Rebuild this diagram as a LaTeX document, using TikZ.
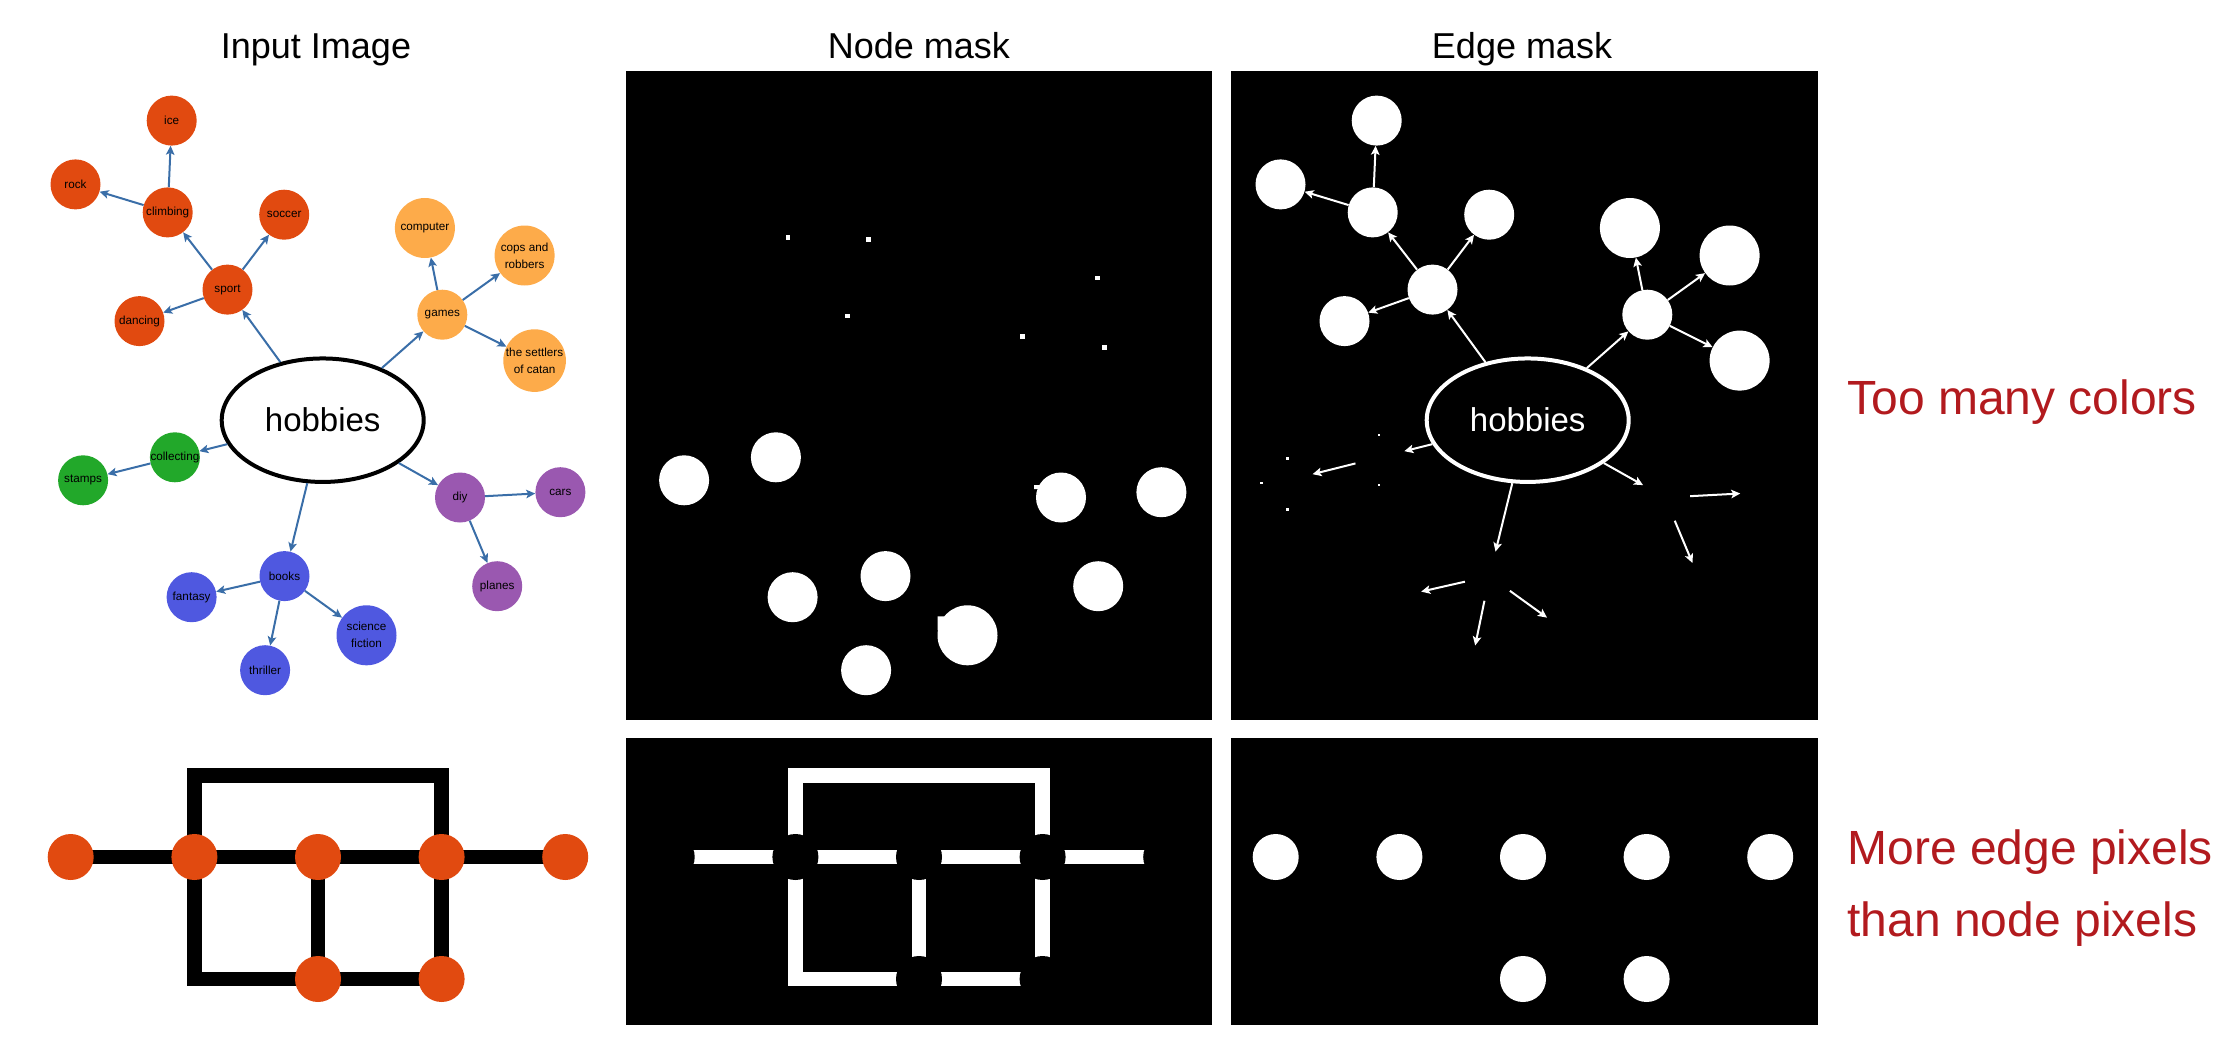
\documentclass[tikz,border=0pt]{standalone}
\usepackage{fontspec}
\setmainfont{Liberation Sans}
\usetikzlibrary{arrows.meta,shapes.geometric}

\definecolor{sportred}{RGB}{225,74,16}
\definecolor{gameorange}{RGB}{253,171,74}
\definecolor{collectgreen}{RGB}{34,168,42}
\definecolor{diypurple}{RGB}{154,88,176}
\definecolor{bookblue}{RGB}{79,88,224}
\definecolor{arrowblue}{RGB}{58,110,168}
\definecolor{notered}{RGB}{178,26,30}

% labels, emptied inside the mask panels
\newcommand{\lbl}[1]{#1}
\newcommand{\hlbl}[1]{#1}

% hobby mind map: nodes
\newcommand{\hobbynodes}{%
  \node[hob] (hobbies) at (322.7,420.2) {\hlbl{hobbies}};
  % sport
  \node[leaf, redgrp] (sport)    at (227.5,289.6) {\lbl{sport}};
  \node[leaf, redgrp] (climbing) at (167.7,212.4) {\lbl{climbing}};
  \node[leaf, redgrp] (ice)      at (171.7,120.6) {\lbl{ice}};
  \node[leaf, redgrp] (rock)     at (75.5,184.4)  {\lbl{rock}};
  \node[leaf, redgrp] (soccer)   at (284.2,214.7) {\lbl{soccer}};
  \node[leaf, redgrp] (dancing)  at (139.5,321.1) {\lbl{dancing}};
  % games
  \node[leaf, orangegrp]    (games)    at (442.3,314.7) {\lbl{games}};
  \node[bigleaf, orangegrp] (computer) at (424.9,228)   {\lbl{computer}};
  \node[bigleaf, orangegrp] (cops)     at (524.6,255.5) {\lbl{cops and\\robbers}};
  \node[bigleaf, orangegrp] (catan)    at (534.6,360.6) {\lbl{the settlers\\of catan}};
  % collecting
  \node[leaf, greengrp] (collecting) at (174.9,457.3) {\lbl{collecting}};
  \node[leaf, greengrp] (stamps)     at (83.1,480.3)  {\lbl{stamps}};
  % diy
  \node[leaf, purplegrp] (diy)    at (460,497.5)   {\lbl{diy}};
  \node[leaf, purplegrp] (cars)   at (560.4,492.2) {\lbl{cars}};
  \node[leaf, purplegrp] (planes) at (497.2,586.2) {\lbl{planes}};
  % books
  \node[leaf, bluegrp]    (books)    at (284.5,576.1) {\lbl{books}};
  \node[leaf, bluegrp]    (fantasy)  at (191.6,597.2) {\lbl{fantasy}};
  \node[bigleaf, bluegrp] (scifi)    at (366.5,635.3) {\lbl{science\\fiction}};
  \node[leaf, bluegrp]    (thriller) at (265.1,670.2) {\lbl{thriller}};
}

% hobby mind map: arrows
\newcommand{\hobbylinks}{%
  \draw[link] (hobbies) -- (sport);
  \draw[link] (sport) -- (climbing);
  \draw[link] (sport) -- (soccer);
  \draw[link] (sport) -- (dancing);
  \draw[link] (climbing) -- (ice);
  \draw[link] (climbing) -- (rock);
  \draw[link] (hobbies) -- (games);
  \draw[link] (games) -- (computer);
  \draw[link] (games) -- (cops);
  \draw[link] (games) -- (catan);
  \draw[link] (hobbies) -- (collecting);
  \draw[link] (collecting) -- (stamps);
  \draw[link] (hobbies) -- (diy);
  \draw[link] (diy) -- (cars);
  \draw[link] (diy) -- (planes);
  \draw[link] (hobbies) -- (books);
  \draw[link] (books) -- (fantasy);
  \draw[link] (books) -- (thriller);
  \draw[link] (books) -- (scifi);
}

% grid graph with thick edges
\newcommand{\gridgraph}{%
  \coordinate (g1) at (70.7,857);
  \coordinate (g2) at (194.4,857);
  \coordinate (g3) at (318,857);
  \coordinate (g4) at (441.6,857);
  \coordinate (g5) at (565.2,857);
  \coordinate (g6) at (318,979);
  \coordinate (g7) at (441.6,979);
  \draw[wire] (g1) -- (g2) -- (g3) -- (g4) -- (g5);
  \draw[wire] (g2) -- ++(0,-81.5) -| (g4);
  \draw[wire] (g2) |- (g6) -- (g7);
  \draw[wire] (g3) -- (g6);
  \draw[wire] (g4) -- (g7);
  \foreach \g in {1,...,7}
    \node[dot] (d\g) at (g\g) {};
}

\begin{document}
\begin{tikzpicture}[x=1pt, y=-1pt,
  leaf/.style={circle, inner sep=0pt, minimum size=50pt, align=center,
    font=\fontsize{11.7}{17}\selectfont},
  bigleaf/.style={leaf, minimum size=60pt},
  redgrp/.style={fill=sportred},
  orangegrp/.style={fill=gameorange},
  greengrp/.style={fill=collectgreen},
  purplegrp/.style={fill=diypurple},
  bluegrp/.style={fill=bookblue},
  hob/.style={ellipse, draw, line width=4pt, inner sep=0pt,
    minimum width=202pt, minimum height=123.5pt,
    font=\fontsize{33}{40}\selectfont},
  link/.style={draw=arrowblue, line width=2pt,
    -{Stealth[length=9pt,width=8.5pt,inset=2pt]}},
  dot/.style={circle, inner sep=0pt, minimum size=46pt, fill=sportred},
  wire/.style={draw=black, line width=14.5pt, line join=miter},
  panel/.style={fill=black},
  title/.style={font=\fontsize{36}{43}\selectfont, anchor=base},
  note/.style={font=\fontsize{48}{58}\selectfont, text=notered, anchor=base west}
]
\useasboundingbox (0,0) rectangle (2234,1051);

% black panels
\fill[panel] (626,71) rectangle (1212,720);
\fill[panel] (1231,71) rectangle (1818,720);
\fill[panel] (626,738) rectangle (1212,1025);
\fill[panel] (1231,738) rectangle (1818,1025);

% titles
\node[title] (tin)   at (316,58.7)  {Input Image};
\node[title] (tnode) at (919,58.7)  {Node mask};
\node[title] (tedge) at (1522,58.7) {Edge mask};

% input image
\hobbynodes
\hobbylinks
\gridgraph

% node mask
\begin{scope}[xshift=601pt, name prefix=n-,
  redgrp/.style={}, orangegrp/.style={},
  greengrp/.style={fill=white}, purplegrp/.style={fill=white},
  bluegrp/.style={fill=white}, hob/.append style={draw=none},
  dot/.append style={fill=black}, wire/.append style={draw=white}]
  \renewcommand{\lbl}[1]{}
  \renewcommand{\hlbl}[1]{}
  \hobbynodes
  \gridgraph
\end{scope}
% arrow tip leftovers in the node mask
\foreach \px/\py in {788/237.5, 868.5/239.7, 847.3/316, 1097.7/277.8,
                     1022.3/336.3, 1104.6/347.3}
  \fill[white] (\px-2.3,\py-2.3) rectangle ++(4.6,4.6);
\fill[white] (1034,485) -- (1045,485) -- (1045,502) -- (1038,502)
  -- (1038,489) -- (1034,489) -- cycle;
\fill[white] (937.7,616.4) -- (949,616.4) -- (949,621) -- (941,621)
  -- (941,630) -- (937.7,630) -- cycle;

% edge mask
\begin{scope}[xshift=1205pt, name prefix=e-,
  redgrp/.style={fill=white}, orangegrp/.style={fill=white},
  greengrp/.style={}, purplegrp/.style={}, bluegrp/.style={},
  hob/.append style={draw=white, text=white},
  link/.append style={draw=white},
  dot/.append style={fill=white}, wire/.append style={draw=none}]
  \renewcommand{\lbl}[1]{}
  \hobbynodes
  \hobbylinks
  \gridgraph
\end{scope}
% node border leftovers in the edge mask
\foreach \px/\py in {1378.8/435, 1287.3/458.3, 1261.2/482.9,
                     1378.8/485, 1287.3/509.2}
  \fill[white] (\px-1.3,\py-1.3) rectangle ++(2.6,2.6);

% remarks
\node[note] (many)  at (1844,414)   {Too many colors};
\node[note] (more)  at (1844,864.6) {More edge pixels};
\node[note] (than)  at (1844,936)   {than node pixels};

\end{tikzpicture}
\end{document}
